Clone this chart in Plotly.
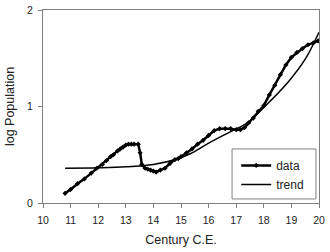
import plotly.graph_objects as go

data_x = [10.8, 11.0, 11.25, 11.5, 11.75, 11.95, 12.15, 12.3, 12.45, 12.55, 12.7, 12.8, 12.9, 13.0, 13.1, 13.2, 13.3, 13.45,
          13.52, 13.58, 13.7, 13.8, 13.9, 14.0, 14.1, 14.25, 14.42, 14.6, 14.78, 14.9, 15.0, 15.2, 15.4, 15.6, 15.8,
          16.0, 16.2, 16.4, 16.6, 16.8, 17.0, 17.15, 17.3, 17.45, 17.62, 17.8, 18.0, 18.2, 18.4, 18.6, 18.8, 19.0,
          19.2, 19.4, 19.6, 19.8, 19.97]
data_y = [0.10, 0.14, 0.20, 0.25, 0.31, 0.36, 0.40, 0.44, 0.48, 0.50, 0.54, 0.56, 0.58, 0.60, 0.61, 0.61, 0.61, 0.61,
          0.52, 0.40, 0.36, 0.35, 0.34, 0.33, 0.32, 0.34, 0.36, 0.41, 0.45, 0.46, 0.48, 0.52, 0.56, 0.61, 0.65,
          0.70, 0.75, 0.77, 0.77, 0.77, 0.76, 0.76, 0.78, 0.83, 0.88, 0.95, 1.01, 1.12, 1.22, 1.33, 1.43, 1.51,
          1.56, 1.60, 1.64, 1.66, 1.68]

trend_x = [10.8, 12.0, 13.0, 14.0, 14.8, 15.33, 16.0, 16.8, 17.4, 18.0, 18.9, 19.5, 20.0]
trend_y = [0.36, 0.365, 0.375, 0.40, 0.45, 0.51, 0.62, 0.74, 0.83, 0.99, 1.26, 1.49, 1.77]

x_ticks = list(range(10, 21))
y_ticks = [0, 1, 2]

FONT = "Liberation Sans, Arial, sans-serif"

fig = go.Figure()
fig.add_trace(go.Scatter(x=data_x, y=data_y, mode="lines+markers", name="data",
                         line=dict(color="black", width=2.5),
                         marker=dict(symbol="diamond", size=4, color="black")))
fig.add_trace(go.Scatter(x=trend_x, y=trend_y, mode="lines", name="trend",
                         line=dict(color="black", width=1.5, shape="spline", smoothing=1.0)))

axis_common = dict(showline=True, linecolor="#808080", linewidth=1, mirror=True,
                   ticks="outside", tickcolor="#808080", ticklen=4, tickwidth=1,
                   showgrid=False, zeroline=False, automargin=False,
                   tickfont=dict(family=FONT, size=10.5, color="#222"))

fig.update_xaxes(range=[10, 20], tickvals=x_ticks, ticktext=[str(t) for t in x_ticks],
                 ticklabelstandoff=3,
                 title=dict(text="Century C.E.", font=dict(family=FONT, size=12.5, color="#222"), standoff=10),
                 **axis_common)
fig.update_yaxes(range=[0, 2], tickvals=y_ticks, ticktext=[str(t) for t in y_ticks],
                 ticklabelstandoff=3,
                 title=dict(text="log Population", font=dict(family=FONT, size=12.5, color="#222"), standoff=9),
                 **axis_common)

# legend frame
fig.add_shape(type="rect", xref="paper", yref="paper",
              x0=0.685, x1=0.989, y0=0.021, y1=0.28,
              line=dict(color="#808080", width=1), fillcolor="white", layer="above")

fig.update_layout(
    width=330, height=252,
    margin=dict(l=43, r=11, t=10, b=49),
    paper_bgcolor="white", plot_bgcolor="white",
    showlegend=True,
    legend=dict(x=0.70, y=0.27, xanchor="left", yanchor="top",
                borderwidth=0, bgcolor="rgba(0,0,0,0)",
                font=dict(family=FONT, size=12, color="#222"),
                itemwidth=30, tracegroupgap=0),
)

fig.write_html("out.html")
